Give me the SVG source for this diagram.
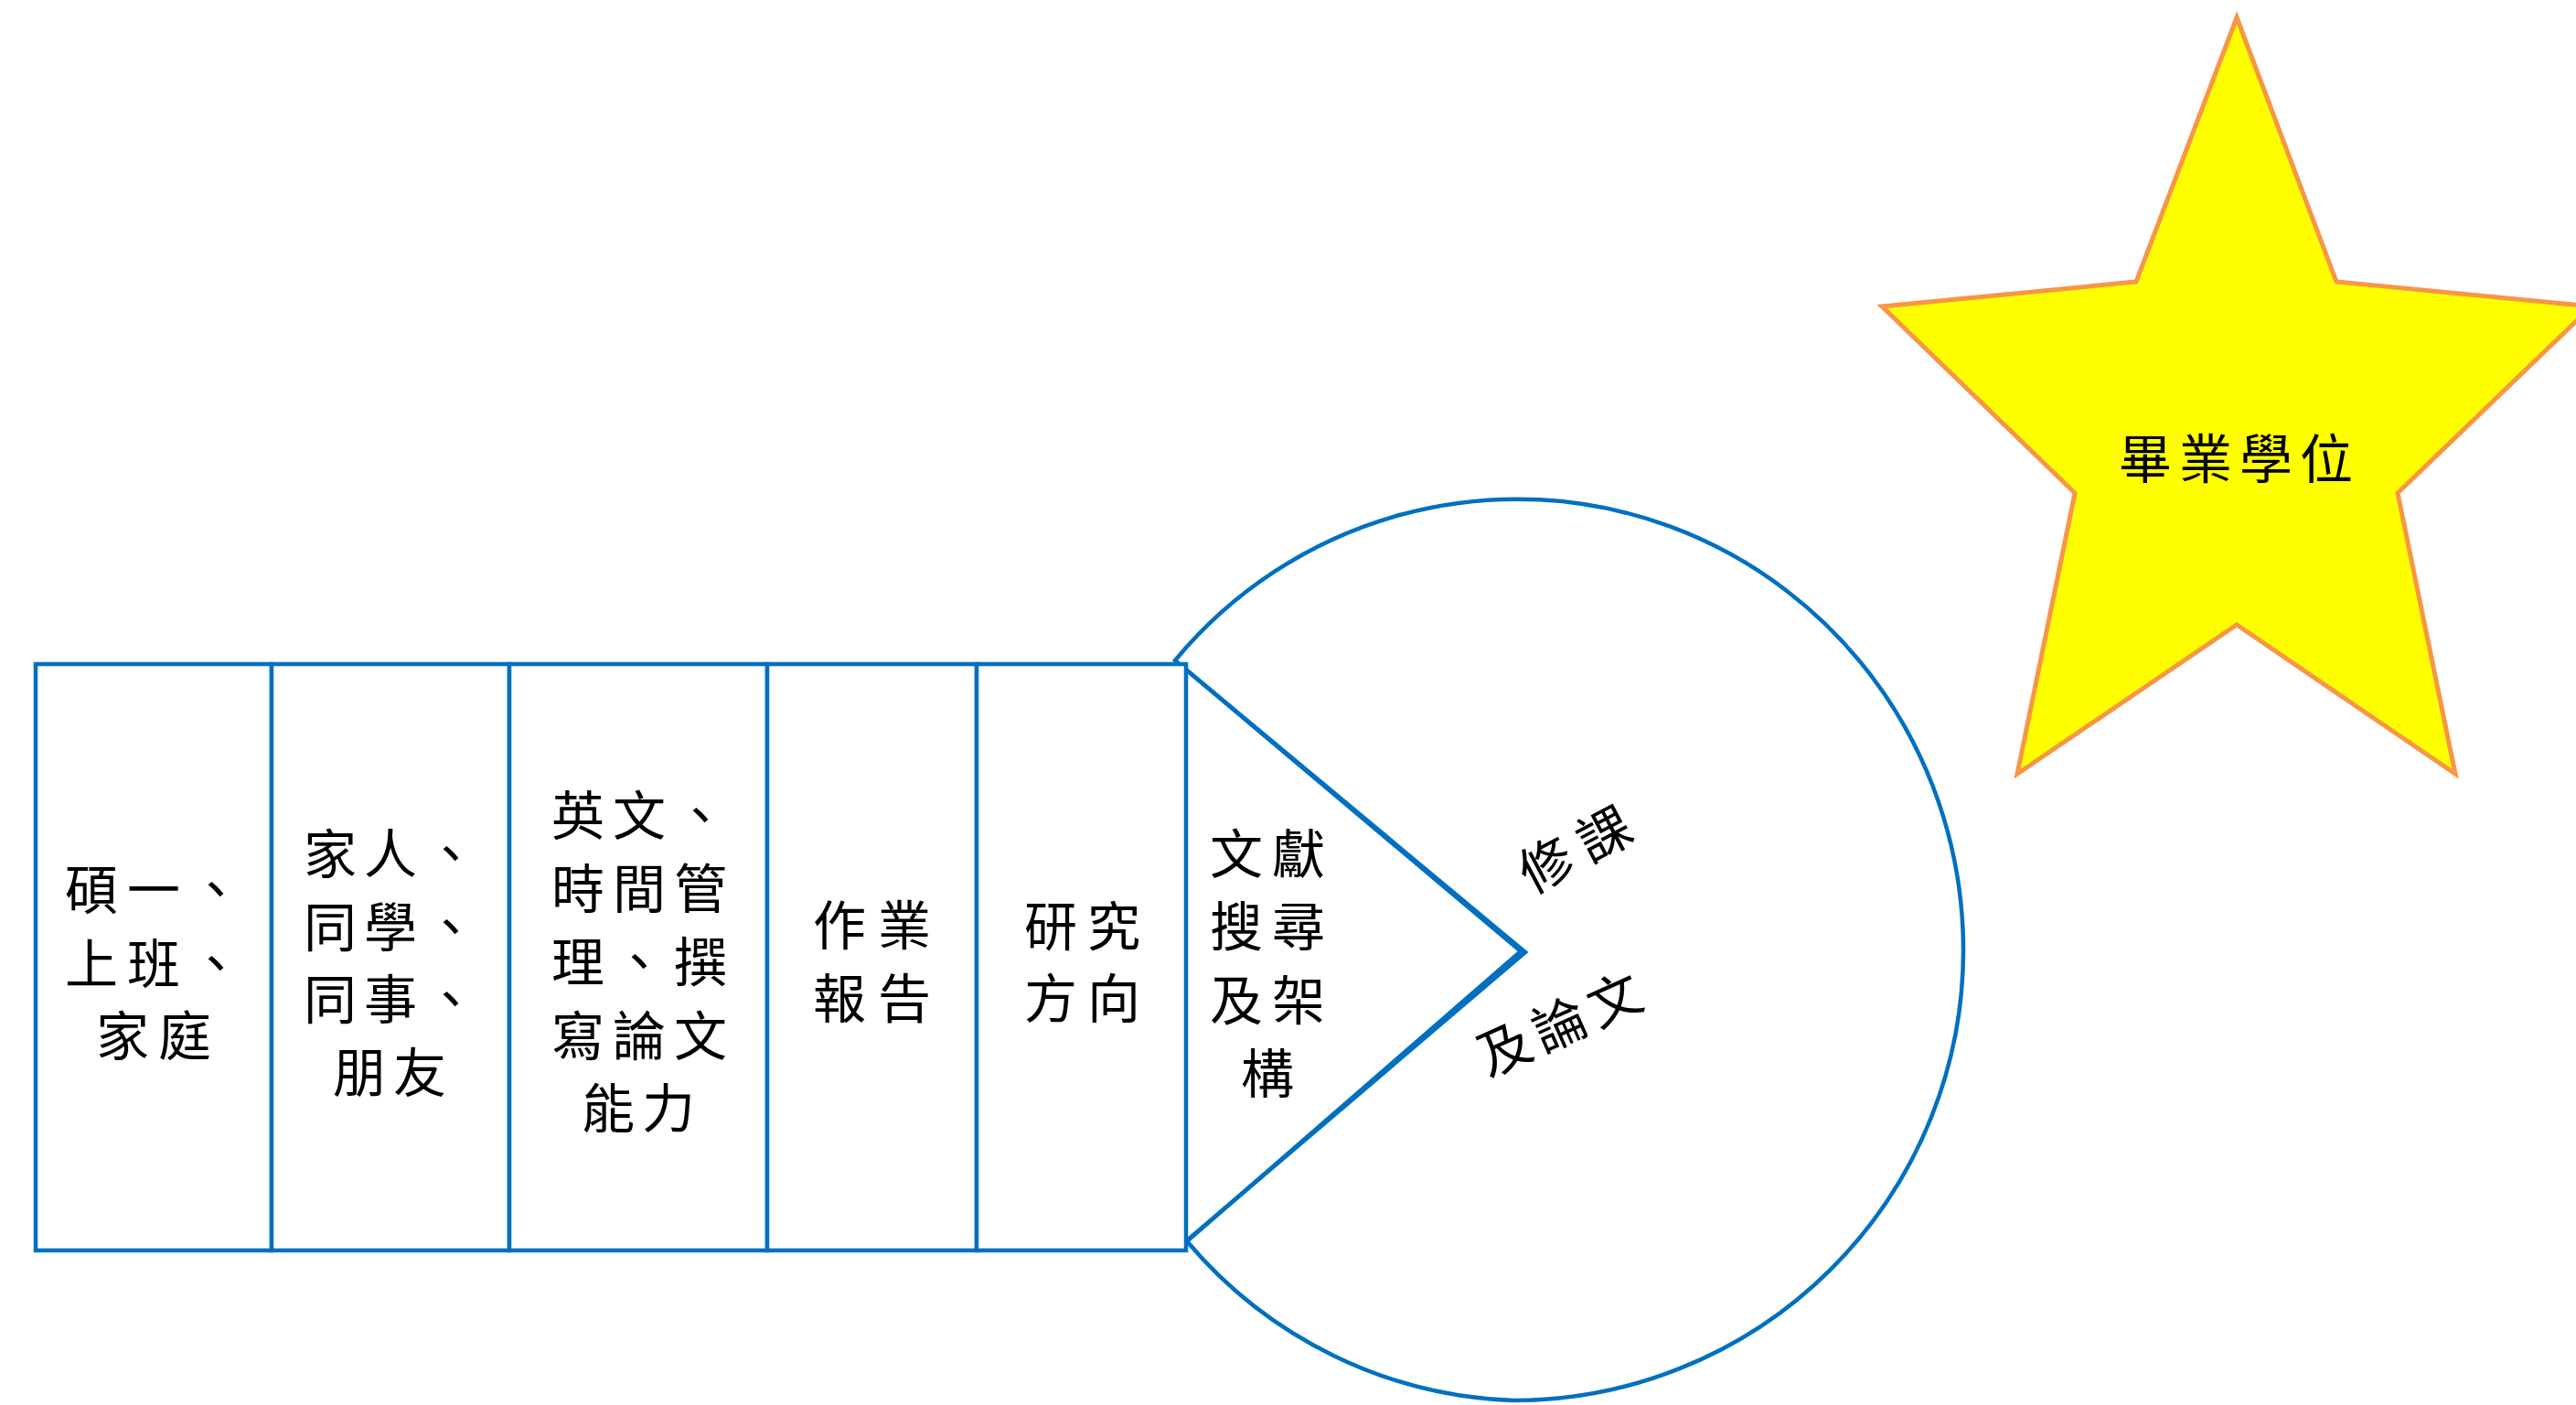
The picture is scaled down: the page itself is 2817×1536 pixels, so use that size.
<svg xmlns="http://www.w3.org/2000/svg" width="2817" height="1536" viewBox="0 0 2817 1536">
<style>
.blue{fill:#FFFFFF;stroke:#0070C0;stroke-width:4.5;stroke-linejoin:miter}
.tri{fill:none;stroke:#0070C0;stroke-width:4.5}
.t{font-family:"Noto Sans CJK TC","Noto Sans CJK JP",sans-serif;font-size:58px;fill:#000000;text-anchor:middle}
.star{fill:#FFFF00;stroke:#F79646;stroke-width:5;stroke-linejoin:miter}
</style>
<rect x="0" y="0" width="2817" height="1536" fill="#FFFFFF"/>
<g id="pie">
<path class="blue" d="M1663,1040 L1285,722 A488,493 0 0 1 2147,1039 A492,492 0 0 1 1655,1531 A490,492 0 0 1 1298,1357 Z"/>
</g>
<g id="col1">
<rect class="blue" x="39" y="726" width="258" height="641"/>
<text class="t" x="100 168 236" y="994">碩一、</text>
<text class="t" x="100 168 236" y="1075">上班、</text>
<text class="t" x="134 202" y="1154">家庭</text>
</g>
<g id="col2">
<rect class="blue" x="297" y="726" width="260" height="641"/>
<text class="t" x="361 427 493" y="955">家人、</text>
<text class="t" x="361 427 493" y="1035">同學、</text>
<text class="t" x="361 427 493" y="1114">同事、</text>
<text class="t" x="393 459" y="1194">朋友</text>
</g>
<g id="col3">
<rect class="blue" x="557" y="726" width="282" height="641"/>
<text class="t" x="632 699 766" y="913">英文、</text>
<text class="t" x="632 699 766" y="993">時間管</text>
<text class="t" x="632 699 766" y="1073">理、撰</text>
<text class="t" x="632 699 766" y="1154">寫論文</text>
<text class="t" x="665 731" y="1233">能力</text>
</g>
<g id="col4">
<rect class="blue" x="839" y="726" width="229" height="641"/>
<text class="t" x="918 989" y="1033">作業</text>
<text class="t" x="918 989" y="1113">報告</text>
</g>
<g id="col5">
<rect class="blue" x="1068" y="726" width="229" height="641"/>
<text class="t" x="1149 1218" y="1034">研究</text>
<text class="t" x="1149 1218" y="1113">方向</text>
</g>
<g id="triangle">
<path class="tri" d="M1297,732 L1668,1041 L1297,1357"/>
<text class="t" x="1352 1420" y="955">文獻</text>
<text class="t" x="1352 1420" y="1034">搜尋</text>
<text class="t" x="1352 1420" y="1115">及架</text>
<text class="t" x="1386" y="1195">構</text>
</g>
<g id="pie-text">
<text class="t" transform="translate(1722,928) rotate(-28)" x="-36 36" y="22">修課</text>
<text class="t" transform="translate(1705,1119) rotate(-24)" x="-66 0 66" y="22">及論文</text>
</g>
<g id="star">
<polygon class="star" points="2446,19 2555,308 2834,335 2622,539 2685,846 2446,683 2206,846 2269,539 2058,335 2336,308"/>
<text class="t" x="2346 2412 2478 2544" y="523">畢業學位</text>
</g>
<g id="connectors"></g>
</svg>
